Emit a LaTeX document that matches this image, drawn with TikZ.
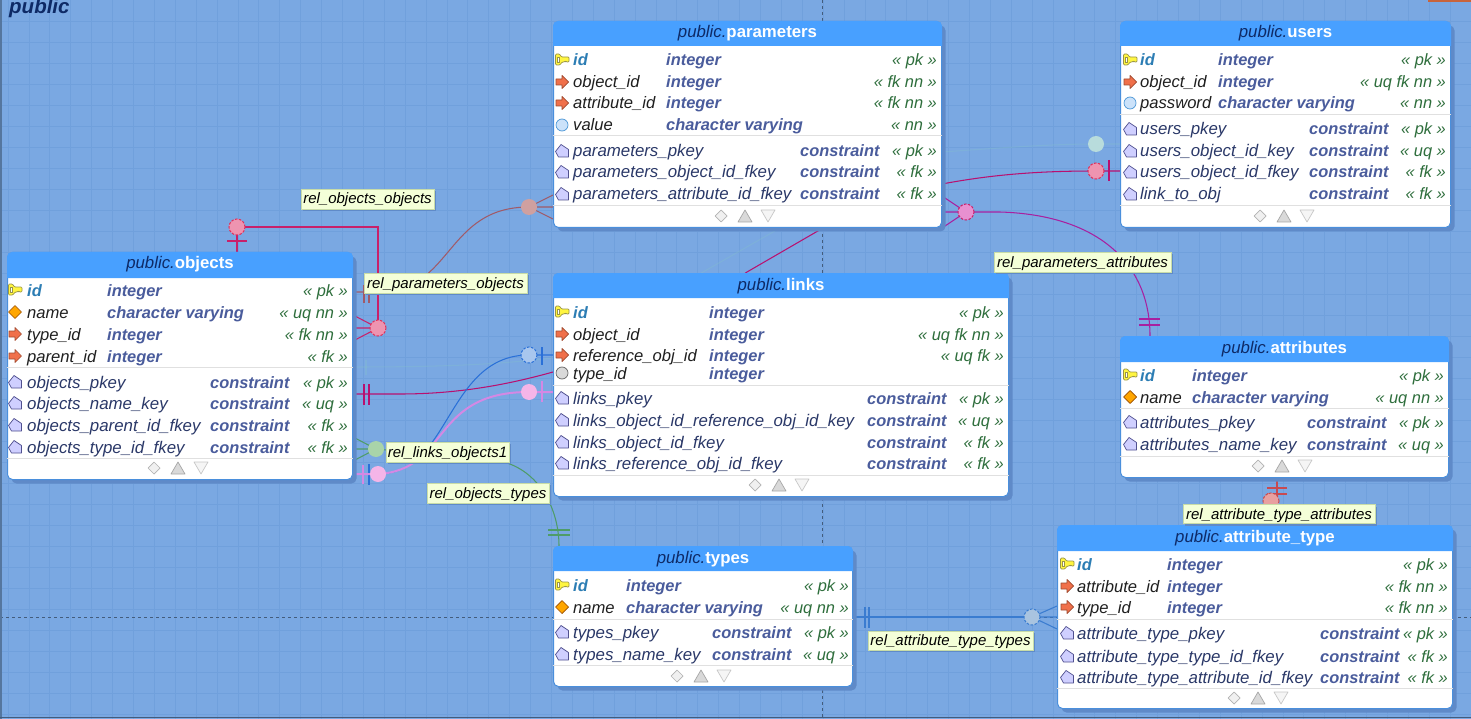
\documentclass[tikz,border=0pt]{standalone}
\usepackage{fontspec}
\setmainfont{Liberation Sans}
\usetikzlibrary{shadows}
\pgfdeclarelayer{gridlayer}
\pgfdeclarelayer{linklayer}
\pgfsetlayers{gridlayer,linklayer,main}
\definecolor{canvas}{HTML}{7AA8E2}
\definecolor{gridc}{HTML}{70A0DC}
\definecolor{hdrc}{HTML}{48A0FF}
\definecolor{edgec}{HTML}{4A8FDC}
\definecolor{shadowc}{HTML}{5F8AC8}
\definecolor{navyc}{HTML}{0E2A66}
\definecolor{typec}{HTML}{4A5C9C}
\definecolor{pkc}{HTML}{2C7DB4}
\definecolor{tagc}{HTML}{2E6E3C}
\definecolor{consc}{HTML}{2A3868}
\definecolor{labelc}{HTML}{F4FFD8}
\definecolor{labeld}{HTML}{C8DCA8}
\definecolor{ooc}{HTML}{C8206A}
\definecolor{brownc}{HTML}{A05A68}
\definecolor{ulc}{HTML}{B81070}
\definecolor{attc}{HTML}{A820A0}
\definecolor{bluec}{HTML}{2A70D8}
\definecolor{pinkc}{HTML}{D488E4}
\definecolor{greenc}{HTML}{4E9C68}
\definecolor{tealc}{HTML}{86C4C8}
\definecolor{redc}{HTML}{C84A50}
\definecolor{stblue}{HTML}{3A7CD0}
\definecolor{dotred}{HTML}{EE94B0}
\definecolor{dotedge}{HTML}{E0305A}
\definecolor{dotmag}{HTML}{E890D0}
\definecolor{dotbrown}{HTML}{CFA0A0}
\definecolor{dotteal}{HTML}{B8DCDC}
\definecolor{dotblue}{HTML}{A8C6EE}
\definecolor{dotpink}{HTML}{F5B5E8}
\definecolor{dotgreen}{HTML}{A9D4A9}
\definecolor{dotsalm}{HTML}{E8A0A0}
\definecolor{dotsteel}{HTML}{A9C4E0}
\newcommand{\fname}{\fontsize{16.6}{18}\selectfont}
\newcommand{\fcons}{\fontsize{16.85}{18}\selectfont}
\newcommand{\ftype}{\fontsize{16.4}{18}\selectfont}
\newcommand{\ftitle}{\fontsize{16.8}{18}\selectfont}
\tikzset{
  x=1pt,y=-1pt,
  tablebody/.style={draw=edgec,line width=1pt,fill=white,rounded corners=5pt,inner sep=0pt,outer sep=0pt,
    general shadow={shadow xshift=4pt,shadow yshift=-4pt,fill=shadowc,rounded corners=5pt}},
  titletext/.style={anchor=base,inner sep=0pt,font=\ftitle},
  fieldtext/.style={anchor=base west,inner sep=0pt,font=\fname\itshape,text=black!88},
  pktext/.style={anchor=base west,inner sep=0pt,font=\ftype\itshape\bfseries,text=pkc},
  typetext/.style={anchor=base west,inner sep=0pt,font=\ftype\itshape\bfseries,text=typec},
  context/.style={anchor=base west,inner sep=0pt,font=\fcons\itshape,text=consc},
  tagtext/.style={anchor=base east,inner sep=0pt,font=\ftype\itshape,text=tagc},
  sepline/.style={draw=black!12,line width=1pt},
  relabel/.style={draw=labeld,line width=.6pt,fill=labelc,inner sep=0pt,outer sep=0pt,text=black,
     font=\fontsize{15}{16}\selectfont\itshape,text height=13pt,text depth=3pt,
     general shadow={shadow xshift=2pt,shadow yshift=-2pt,fill=shadowc}},
  dot/.style={circle,minimum size=16pt,inner sep=0pt,outer sep=0pt},
  dashdot/.style={dot,line width=1pt,dash pattern=on 2.5pt off 1.5pt},
  rel/.style={line width=1.05pt},
  gridline/.style={draw=gridc,line width=.7pt},
  pagebreak/.style={draw=black!45!canvas,line width=.7pt,dash pattern=on 3pt off 3pt},
  iconline/.style={line width=.7pt,line join=round},
}
\newcount\nc
\newcommand{\txt}[4]{\global\advance\nc by 1 \node[#1] (t\the\nc) at (#2,#3) {#4};}
% icons
\newcommand{\ikey}[2]{\begin{scope}[shift={(#1,#2)}]
 \draw[iconline,fill=yellow!75!white,draw=black!45!yellow,rounded corners=1pt] (-6.5,-6)--(-2.5,-6)--(-0.5,-3)--(7,-3)--(7,2)--(4.5,2)--(3.5,1)--(2.5,2)--(0,2)--(-2,5)--(-6.5,5)--cycle;
 \fill[white,rounded corners=1pt] (-4.5,-3) rectangle (-2.5,2);
 \draw[black!45!yellow,line width=.5pt] (-4.5,-3) rectangle (-2.5,2);
 \end{scope}}
\newcommand{\idia}[2]{\begin{scope}[shift={(#1,#2)}]
 \draw[iconline,fill=orange!70!yellow,draw=orange!60!black] (-6.5,0)--(0,-6.5)--(6.5,0)--(0,6.5)--cycle;\end{scope}}
\definecolor{arrf}{HTML}{F0704A}\definecolor{arrd}{HTML}{A04A30}
\newcommand{\iarr}[2]{\begin{scope}[shift={(#1,#2)}]
 \draw[iconline,fill=arrf,draw=arrd] (-6,-3)--(0,-3)--(0,-6.5)--(6.5,0)--(0,6.5)--(0,3)--(-6,3)--cycle;\end{scope}}
\definecolor{cirf}{HTML}{CBE2FA}\definecolor{cird}{HTML}{4A96D6}
\newcommand{\icir}[2]{\draw[iconline,fill=cirf,draw=cird] (#1,#2) circle[radius=6pt];}
\newcommand{\igry}[2]{\draw[iconline,fill=black!15,draw=black!60] (#1,#2) circle[radius=6pt];}
\definecolor{penf}{HTML}{CFCFFF}\definecolor{pend}{HTML}{50508F}
\newcommand{\ipen}[2]{\begin{scope}[shift={(#1,#2)}]
 \draw[iconline,fill=penf,draw=pend] (-1,-6.5)--(6.5,-1.5)--(6.5,6)--(-3.5,6)--(-6.5,0.5)--cycle;\end{scope}}
% footer icons
\newcommand{\foot}[2]{
 \draw[iconline,fill=black!6,draw=black!30] (#1-30,#2)--(#1-24,#2-6)--(#1-18,#2)--(#1-24,#2+6)--cycle;
 \draw[iconline,fill=black!15,draw=black!35] (#1-7,#2+6)--(#1,#2-6)--(#1+7,#2+6)--cycle;
 \draw[iconline,fill=black!4,draw=black!22] (#1+16,#2-6)--(#1+30,#2-6)--(#1+23,#2+6)--cycle;}
% table:  name x0 y0 x1 y1 headbottom title sep footline
\newcommand{\tbox}[9]{
 \pgfmathsetmacro\mx{(#2+#4)/2}\pgfmathsetmacro\my{(#3+#5)/2}
 \pgfmathsetmacro\ww{#4-#2-1}\pgfmathsetmacro\hh{#5-#3-1}
 \node[tablebody,minimum width=\ww pt,minimum height=\hh pt] (#1) at (\mx,\my) {};
 \fill[hdrc] (#2,#6) {[rounded corners=5pt] -- (#2,#3) -- (#4,#3)} -- (#4,#6) -- cycle;
 \txt{titletext}{\mx}{#3+17}{\textcolor{navyc}{\itshape public.}\textcolor{white}{\bfseries #7}}
 \draw[sepline] (#2,#8)--(#4,#8);
 \draw[sepline] (#2,#9)--(#4,#9);
}
\newcommand{\cols}[5]{\def\cI{#1}\def\cN{#2}\def\cT{#3}\def\cC{#4}\def\cR{#5}}
% field row: y icon style name type tag
\newcommand{\frow}[6]{#2{\cI}{#1}\txt{#3}{\cN}{#1+6}{#4}\txt{typetext}{\cT}{#1+6}{#5}\txt{tagtext}{\cR}{#1+6}{#6}}
\newcommand{\crow}[3]{\ipen{\cI}{#1}\txt{context}{\cN}{#1+6}{#2}\txt{typetext}{\cC}{#1+6}{constraint}\txt{tagtext}{\cR}{#1+6}{#3}}
\begin{document}
\begin{tikzpicture}
\useasboundingbox (0,0) rectangle (1471,719);
\begin{pgfonlayer}{gridlayer}
 \fill[canvas] (0,0) rectangle (1471,719);
 \foreach \i in {0,...,70}{\draw[gridline] (8+20.9*\i,0)--(8+20.9*\i,719);}
 \foreach \i in {1,...,34}{\draw[gridline] (0,21*\i)--(1471,21*\i);}
 \draw[pagebreak] (822,0)--(822,719);
 \draw[pagebreak] (0,617)--(1471,617);
 \fill[black!30!canvas] (0,0) rectangle (2,719);
 \draw[black!45!canvas,line width=1pt] (0,717)--(1471,717);
 \definecolor{cornerc}{HTML}{C8643C}
 \fill[cornerc] (1428,0) rectangle (1471,2);
\end{pgfonlayer}
\node[anchor=base west,inner sep=0pt,font=\fontsize{20.5}{22}\selectfont\itshape\bfseries,text=navyc] (schema) at (9,14) {public};

% ---- tables
\tbox{objects}{7}{252}{353}{480}{278}{objects}{367}{458}
\cols{15}{27}{107}{210}{348}
\frow{290}{\ikey}{pktext}{id}{integer}{« pk »}
\frow{312}{\idia}{fieldtext}{name}{character varying}{« uq nn »}
\frow{334}{\iarr}{fieldtext}{type\_id}{integer}{« fk nn »}
\frow{356}{\iarr}{fieldtext}{parent\_id}{integer}{« fk »}
\crow{382}{objects\_pkey}{« pk »}
\crow{403}{objects\_name\_key}{« uq »}
\crow{425}{objects\_parent\_id\_fkey}{« fk »}
\crow{447}{objects\_type\_id\_fkey}{« fk »}
\foot{178}{468}

\tbox{parameters}{553}{21}{942}{228}{46}{parameters}{136}{206}
\cols{562}{573}{666}{800}{937}
\frow{60}{\ikey}{pktext}{id}{integer}{« pk »}
\frow{82}{\iarr}{fieldtext}{object\_id}{integer}{« fk nn »}
\frow{103}{\iarr}{fieldtext}{attribute\_id}{integer}{« fk nn »}
\frow{125}{\icir}{fieldtext}{value}{character varying}{« nn »}
\crow{151}{parameters\_pkey}{« pk »}
\crow{172}{parameters\_object\_id\_fkey}{« fk »}
\crow{194}{parameters\_attribute\_id\_fkey}{« fk »}
\foot{745}{216}

\tbox{users}{1120}{21}{1451}{228}{46}{users}{115}{206}
\cols{1130}{1140}{1218}{1309}{1446}
\frow{60}{\ikey}{pktext}{id}{integer}{« pk »}
\frow{82}{\iarr}{fieldtext}{object\_id}{integer}{« uq fk nn »}
\frow{103}{\icir}{fieldtext}{password}{character varying}{« nn »}
\crow{129}{users\_pkey}{« pk »}
\crow{151}{users\_object\_id\_key}{« uq »}
\crow{172}{users\_object\_id\_fkey}{« fk »}
\crow{194}{link\_to\_obj}{« fk »}
\foot{1284}{216}

\tbox{links}{553}{273}{1009}{497}{298}{links}{385}{475}
\cols{562}{573}{709}{867}{1004}
\frow{312}{\ikey}{pktext}{id}{integer}{« pk »}
\frow{334}{\iarr}{fieldtext}{object\_id}{integer}{« uq fk nn »}
\frow{355}{\iarr}{fieldtext}{reference\_obj\_id}{integer}{« uq fk »}
\igry{562}{373}\txt{fieldtext}{573}{379}{type\_id}\txt{typetext}{709}{379}{integer}
\crow{398}{links\_pkey}{« pk »}
\crow{420}{links\_object\_id\_reference\_obj\_id\_key}{« uq »}
\crow{442}{links\_object\_id\_fkey}{« fk »}
\crow{463}{links\_reference\_obj\_id\_fkey}{« fk »}
\foot{779}{485}

\tbox{attributes}{1120}{336}{1449}{478}{362}{attributes}{408}{456}
\cols{1130}{1140}{1192}{1307}{1444}
\frow{375}{\ikey}{pktext}{id}{integer}{« pk »}
\frow{397}{\idia}{fieldtext}{name}{character varying}{« uq nn »}
\crow{422}{attributes\_pkey}{« pk »}
\crow{444}{attributes\_name\_key}{« uq »}
\foot{1282}{466}

\tbox{types}{553}{546}{853}{687}{571}{types}{619}{665}
\cols{562}{573}{626}{712}{849}
\frow{585}{\ikey}{pktext}{id}{integer}{« pk »}
\frow{607}{\idia}{fieldtext}{name}{character varying}{« uq nn »}
\crow{632}{types\_pkey}{« pk »}
\crow{654}{types\_name\_key}{« uq »}
\foot{701}{676}

\tbox{attrtype}{1057}{525}{1453}{709}{551}{attribute\_type}{619}{688}
\cols{1067}{1077}{1167}{1320}{1448}
\frow{564}{\ikey}{pktext}{id}{integer}{« pk »}
\frow{586}{\iarr}{fieldtext}{attribute\_id}{integer}{« fk nn »}
\frow{607}{\iarr}{fieldtext}{type\_id}{integer}{« fk nn »}
\crow{633}{attribute\_type\_pkey}{« pk »}
\crow{656}{attribute\_type\_type\_id\_fkey}{« fk »}
\crow{677}{attribute\_type\_attribute\_id\_fkey}{« fk »}
\foot{1258}{698}

% ---- relationship end symbols
\node[dashdot,fill=dotred,draw=dotedge] (dOOtop) at (237,227) {};
\node[dashdot,fill=dotred,draw=dotedge] (dOOfk) at (378,328) {};
\node[dot,fill=dotbrown] (dPO) at (529,207) {};
\node[dot,fill=dotteal] (dUT) at (1096,144) {};
\node[dashdot,fill=dotred,draw=dotedge] (dUL) at (1096,171) {};
\node[dashdot,fill=dotmag,draw=ooc] (dPA) at (966,212) {};
\node[dashdot,fill=dotblue,draw=bluec] (dLB) at (529,355) {};
\node[dot,fill=dotpink] (dLP) at (529,392) {};
\node[dot,fill=dotpink] (dLO) at (378,474) {};
\node[dot,fill=dotgreen] (dOT) at (376,449) {};
\node[dashdot,fill=dotsalm,draw=redc] (dAA) at (1271,501) {};
\node[dashdot,fill=dotsteel,draw=stblue] (dATT) at (1032,617) {};

% ---- labels
\node[relabel,minimum width=133pt,minimum height=20pt] (lOO) at (367.5,199) {rel\_objects\_objects};
\node[relabel,minimum width=163pt,minimum height=20pt] (lPO) at (445.5,283) {rel\_parameters\_objects};
\node[relabel,minimum width=177pt,minimum height=20pt] (lPA) at (1082.5,262) {rel\_parameters\_attributes};
\node[relabel,minimum width=123pt,minimum height=20pt] (lLO) at (447.5,452) {rel\_links\_objects1};
\node[relabel,minimum width=122pt,minimum height=20pt] (lOT) at (488,493) {rel\_objects\_types};
\node[relabel,minimum width=192pt,minimum height=19pt] (lAA) at (1279,514) {rel\_attribute\_type\_attributes};
\node[relabel,minimum width=165pt,minimum height=19pt] (lATT) at (950.5,640.5) {rel\_attribute\_type\_types};

% ---- connector anchors on table edges
\coordinate (oT) at (237,252);
\coordinate (oCorner) at (378,227);
\coordinate (oA) at (353,315);\coordinate (oB) at (353,328);\coordinate (oC) at (353,341);
\coordinate (o292) at (353,292);
\coordinate (o394) at (353,394);
\coordinate (o367) at (353,367);
\coordinate (oG1) at (353,437);\coordinate (oG2) at (353,449);\coordinate (oG3) at (353,461);
\coordinate (o474) at (353,474);
\coordinate (pA) at (553,195);\coordinate (pB) at (553,207);\coordinate (pC) at (553,219);
\coordinate (pD) at (942,196);\coordinate (pE) at (942,212);\coordinate (pF) at (942,228);
\coordinate (u171) at (1120,171);
\coordinate (u144) at (1120,144);
\coordinate (l355) at (553,355);\coordinate (l392) at (553,392);\coordinate (l372) at (553,372);
\coordinate (aTop) at (1150,336);
\coordinate (aBot) at (1277,478);
\coordinate (atTop) at (1277,525);
\coordinate (tTop) at (559,546);
\coordinate (tR) at (853,617);
\coordinate (at1) at (1057,606);\coordinate (at2) at (1057,617);\coordinate (at3) at (1057,629);

\begin{pgfonlayer}{linklayer}
 % objects self
 \draw[rel,ooc] (oT)--(dOOtop.center)--(oCorner)--(dOOfk.center);
 \draw[rel,ooc] (227,241)--(247,241);
 \draw[rel,ooc] (oA)--(dOOfk.center)--(oC) (oB)--(dOOfk.center);
 % parameters-objects
 \draw[rel,brownc] (o292)--(378,292) .. controls (453,292) and (445,207) .. (dPO.center);
 \draw[rel,brownc] (pA)--(dPO.center)--(pC) (pB)--(dPO.center);
 \draw[rel,brownc] (364,285)--(364,303) (369,285)--(369,303);
 % users link_to_obj - objects
 \draw[rel,ulc] (o394)--(400,394) .. controls (460,394) and (510,384) .. (l372) .. controls (620,352) and (700,305) .. (747,272) -- (823,228) .. controls (860,205) and (900,190) .. (942,184) .. controls (1000,173) and (1050,171) .. (dUL.center) -- (u171);
 \draw[rel,ulc] (364,384)--(364,405) (369,384)--(369,405) (1109,160)--(1109,181);
 % faint relationship to users
 \draw[rel,tealc,opacity=.3] (o367) .. controls (450,367) and (500,364) .. (553,358) .. controls (620,340) and (660,300) .. (703,272) -- (780,228) .. controls (820,190) and (880,165) .. (942,152) .. controls (1000,148) and (1050,144) .. (dUT.center) -- (u144);
 \draw[rel,tealc,opacity=.3] (366,360)--(366,375);
 % parameters-attributes
 \draw[rel,attc] (pD)--(dPA.center)--(pF) (pE)--(dPA.center);
 \draw[rel,attc] (dPA.center)--(1000,212) .. controls (1100,215) and (1150,265) .. (aTop);
 \draw[rel,attc] (1139,319)--(1160,319) (1139,325)--(1160,325);
 % links-objects (blue)
 \draw[rel,bluec] (o474)--(388,473) .. controls (450,465) and (450,355) .. (dLB.center) -- (l355);
 \draw[rel,bluec] (369,464)--(369,485) (542,347)--(542,365);
 % links-objects (pink)
 \draw[line width=2pt,pinkc] (o474)--(dLO.center) .. controls (450,470) and (430,392) .. (dLP.center) -- (l392);
 \draw[rel,pinkc] (363,465)--(363,484) (542,381)--(542,402);
 % objects-types
 \draw[rel,greenc] (oG1)--(dOT.center)--(oG3) (oG2)--(dOT.center)--(500,461) .. controls (540,470) and (559,510) .. (tTop);
 \draw[rel,greenc] (548,530)--(570,530) (548,535)--(570,535);
 % attribute_type-attributes
 \draw[rel,redc] (aBot)--(atTop);
 \draw[rel,redc] (1267,488)--(1287,488) (1267,494)--(1287,494);
 % attribute_type-types
 \draw[rel,stblue] (tR)--(dATT.center);
 \draw[rel,stblue] (at1)--(dATT.center)--(at3) (at2)--(dATT.center);
 \draw[rel,stblue] (865,607)--(865,628) (869,607)--(869,628);
\end{pgfonlayer}
\end{tikzpicture}
\end{document}
